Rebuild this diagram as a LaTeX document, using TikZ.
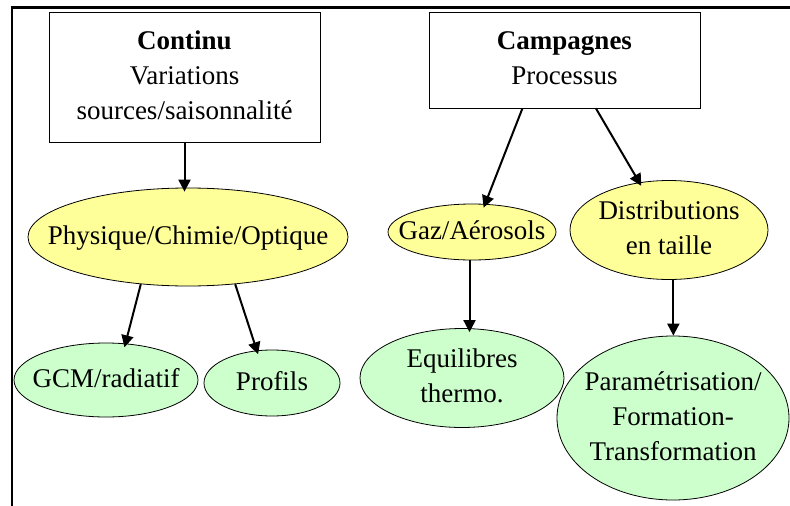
\documentclass[tikz,border=0pt]{standalone}
\usepackage{fontspec}
\setmainfont{Liberation Serif}
\usetikzlibrary{shapes.geometric,arrows.meta}
\newcommand{\ntext}[1]{\makebox[0pt]{\begin{tabular}{@{}c@{}}#1\end{tabular}}}
\definecolor{jaune}{RGB}{255,255,153}
\definecolor{vert}{RGB}{204,255,204}

\begin{document}
\begin{tikzpicture}[x=1pt,y=-1pt,
  every node/.style={font=\fontsize{27}{35}\selectfont, inner sep=0pt},
  cadre/.style={draw, rectangle, line width=0.8pt},
  jaunel/.style={draw, ellipse, fill=jaune, line width=0.8pt},
  vertel/.style={draw, ellipse, fill=vert, line width=0.8pt},
  >={Triangle[length=12pt,width=12pt]}]
\useasboundingbox (0,0) rectangle (790,506);
\draw[line width=2.5pt] (12,506) -- (12,7.5) -- (790,7.5);

\node[cadre, minimum width=271pt, minimum height=130pt] (cont) at (184.5,77)
  {\ntext{\textbf{Continu}\\Variations\\sources/saisonnalité}};
\node[cadre, minimum width=271pt, minimum height=96pt] (camp) at (564.5,60)
  {\ntext{\textbf{Campagnes}\\Processus}};

\node[jaunel, minimum width=320pt, minimum height=98pt] (phys) at (188,237) {\ntext{Physique/Chimie/Optique}};
\node[jaunel, minimum width=168pt, minimum height=56pt] (gaz) at (472,232) {\ntext{Gaz/Aérosols}};
\node[jaunel, minimum width=198pt, minimum height=98pt] (distr) at (669,230) {\ntext{Distributions\\en taille}};

\node[vertel, minimum width=184pt, minimum height=74pt] (gcm) at (106,380) {\ntext{GCM/radiatif}};
\node[vertel, minimum width=136pt, minimum height=66pt] (prof) at (272,383) {\ntext{Profils}};
\node[vertel, minimum width=204pt, minimum height=98pt] (equil) at (462,378) {\ntext{Equilibres\\thermo.}};
\node[vertel, minimum width=232pt, minimum height=164pt] (param) at (673,418)
  {\ntext{Paramétrisation/\\Formation-\\Transformation}};

\path[->, line width=2pt, shorten >=-4pt]
(cont.south) edge (cont.south |- phys.north)
(camp.-131) edge (gaz.65)
(camp.-57) edge (distr.122)
(phys.-135) edge (gcm.62)
(phys.-45) edge (prof.115)
(gaz.-95) edge (gaz.-95 |- equil.north);
\path[->, line width=2pt]
(distr.-85) edge (distr.-85 |- param.north);

\end{tikzpicture}
\end{document}
